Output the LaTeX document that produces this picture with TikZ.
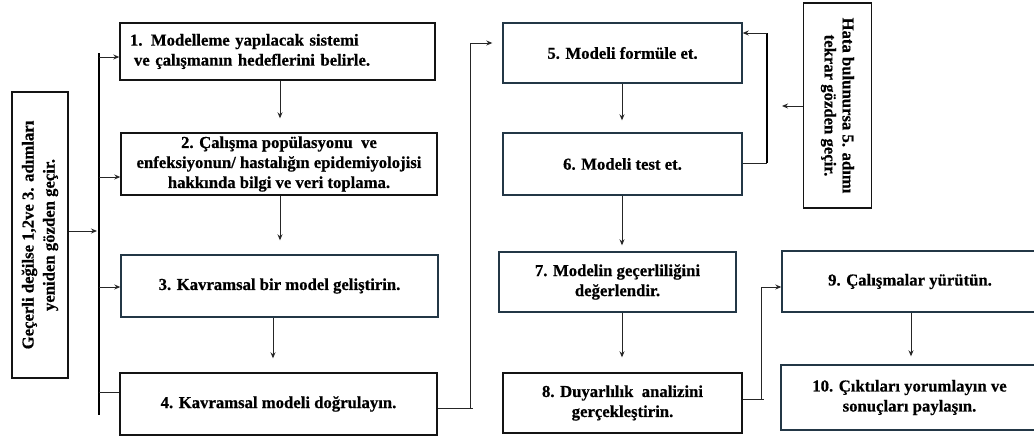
\documentclass[tikz,border=0pt]{standalone}
\usepackage{fontspec}
\setmainfont{Liberation Serif}[BoldFeatures={FakeBold=0.6}]
\usetikzlibrary{arrows.meta,calc}
\definecolor{bordA}{RGB}{20,20,20}
\definecolor{bordB}{RGB}{35,55,70}
\begin{document}
\begin{tikzpicture}[x=1pt,y=-1pt,
  box/.style={draw=bordA,line width=1.4pt,inner sep=0pt,
    font=\bfseries\fontsize{16.7}{20}\selectfont,align=center},
  boxb/.style={box,draw=bordB},
  conn/.style={line width=0.9pt,draw=black!85},
  arr/.style={conn,-{Stealth[length=6pt,width=5pt]}}]
\useasboundingbox (0,0) rectangle (1034,440);

% boxes
\node[box,minimum width=315pt,minimum height=57pt,text width=295pt,align=left] (b1) at (277.5,51.5)
  {\raisebox{-3pt}{1. Modelleme yapılacak sistemi}\\\hspace*{4pt}\raisebox{-3pt}{ve çalışmanın hedeflerini belirle.}};
\node[box,minimum width=316pt,minimum height=62pt] (b2) at (279,164)
  {2. Çalışma popülasyonu\ \ ve\\enfeksiyonun/ hastalığın epidemiyolojisi\\hakkında bilgi ve veri toplama.};
\node[boxb,minimum width=317pt,minimum height=62pt] (b3) at (279.5,286)
  {3. Kavramsal bir model geliştirin.};
\node[box,minimum width=317pt,minimum height=62pt] (b4) at (278.5,404)
  {4. Kavramsal modeli doğrulayın.};
\node[boxb,minimum width=239pt,minimum height=60pt] (b5) at (622.5,53)
  {5. Modeli formüle et.};
\node[boxb,minimum width=239pt,minimum height=62pt] (b6) at (622.5,164)
  {6. Modeli test et.};
\node[boxb,minimum width=237pt,minimum height=60pt] (b7) at (617.5,282)
  {7. Modelin geçerliliğini\\değerlendir.};
\node[box,minimum width=239pt,minimum height=60pt] (b8) at (622.5,403)
  {8. Duyarlılık\ \ analizini\\gerçekleştirin.};
\node[boxb,minimum width=256pt,minimum height=61pt] (b9) at (910,281.5)
  {9. Çalışmalar yürütün.};
\node[boxb,minimum width=257pt,minimum height=65pt] (b10) at (909.5,397.5)
  {10. Çıktıları yorumlayın ve\\sonuçları paylaşın.};
\node[box,rotate=90,minimum width=286pt,minimum height=56pt,
  font=\bfseries\fontsize{16.7}{21}\selectfont] (left) at (40,235)
  {Geçerli değilse 1,2ve 3. adımları\\yeniden gözden geçir.};
\node[box,rotate=-90,minimum width=205pt,minimum height=68pt,
  font=\bfseries\fontsize{16.7}{18}\selectfont] (hata) at (837.5,105.5)
  {Hata bulunursa 5. adımı\\tekrar gözden geçir.};

% helper coordinates
\coordinate (barT) at (99,53);
\coordinate (barB) at (99,415);
\coordinate (yL) at (0,231);
\coordinate (y1) at (0,57);
\coordinate (y2) at (0,177);
\coordinate (y3) at (0,287);
\coordinate (y4b) at (0,392);
\coordinate (xa) at (280,0);
\coordinate (xb) at (273,0);
\coordinate (xc) at (622,0);
\coordinate (xd) at (911,0);
\coordinate (y4) at (0,408);
\coordinate (xv) at (470,0);
\coordinate (y5) at (0,43);
\coordinate (y6) at (0,163);
\coordinate (xw) at (767,0);
\coordinate (y5t) at (0,33);
\coordinate (yh) at (0,106);
\coordinate (y8) at (0,399);
\coordinate (xu) at (761,0);
\coordinate (y9) at (0,287);

% left bar and its branches
\draw[line width=2.6pt] (barT) -- (barB);
\draw[arr,shorten >=2pt] (left.south |- yL) -- (barT |- yL);
\draw[arr] (barT |- y1) -- (b1.west |- y1);
\draw[arr] (barT |- y2) -- (b2.west |- y2);
\draw[arr] (barT |- y3) -- (b3.west |- y3);
\draw[conn] (barT |- y4b) -- (b4.west |- y4b);

% left column arrows
\draw[arr] (b1.south -| xa) -- ($(b2.north -| xa)+(0,-14)$);
\draw[arr] (b2.south -| xa) -- ($(b3.north -| xa)+(0,-14)$);
\draw[arr] (b3.south -| xb) -- ($(b4.north -| xb)+(0,-14)$);

% 4 -> 5
\draw[conn] (b4.east |- y4) -- ($(xv |- y4)+(3,0)$);
\draw[arr] (xv |- y4) -- (xv |- y5) -- ($(b5.west |- y5)+(-10,0)$);

% middle column
\draw[arr] (b5.south -| xc) -- ($(b6.north -| xc)+(0,-12)$);
\draw[arr] (b6.south -| xc) -- ($(b7.north -| xc)+(0,-6)$);
\draw[arr] (b7.south -| xc) -- ($(b8.north -| xc)+(0,-15)$);

% 6 -> 5 loop
\draw[conn] (b6.east |- y6) -- (xw |- y6);
\draw[line width=2.2pt] (xw |- y6) -- (xw |- y5t);
\draw[arr] (xw |- y5t) -- (b5.east |- y5t);
\draw[arr] (hata.south |- yh) -- ($(xw |- yh)+(15,0)$);

% 8 -> 9
\draw[conn] (b8.east |- y8) -- ($(xu |- y8)+(3,0)$);
\draw[arr] (xu |- y8) -- (xu |- y9) -- (b9.west |- y9);
\draw[arr] (b9.south -| xd) -- ($(b10.north -| xd)+(0,-8)$);
\end{tikzpicture}
\end{document}
